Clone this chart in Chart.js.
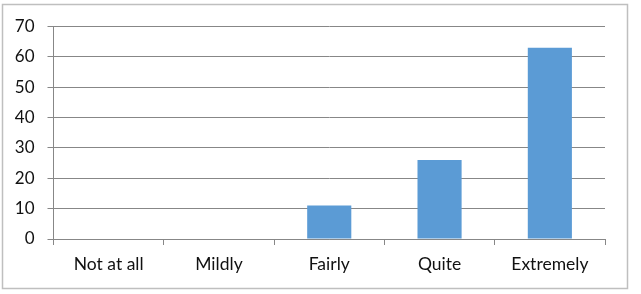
<!DOCTYPE html>
<html>
<head>
<meta charset="utf-8">
<script src="https://cdn.jsdelivr.net/npm/chart.js@4/dist/chart.umd.min.js"></script>
<style>
html,body{margin:0;padding:0;background:#fff;}
#wrap{width:641px;height:294px;position:relative;}
</style>
</head>
<body>
<div id="wrap"><canvas id="c" width="641" height="294"></canvas></div>
<script>
const categories = ["Not at all", "Mildly", "Fairly", "Quite", "Extremely"];
const values = [0, 0, 11, 26, 63];
const yTicks = [0, 10, 20, 30, 40, 50, 60, 70];

const borderPlugin = {
  id: 'outerBorder',
  beforeDraw(chart) {
    const ctx = chart.ctx;
    ctx.save();
    ctx.fillStyle = '#fff';
    ctx.fillRect(0, 0, chart.width, chart.height);
    ctx.strokeStyle = '#BFBFBF';
    ctx.lineWidth = 1.5;
    ctx.strokeRect(2.5, 4.5, 625, 284);
    ctx.restore();
  }
};

new Chart(document.getElementById('c'), {
  type: 'bar',
  data: {
    labels: categories,
    datasets: [{
      data: values,
      backgroundColor: '#5B9BD5',
      borderWidth: 0,
      barPercentage: 0.4,
      categoryPercentage: 1.0
    }]
  },
  options: {
    responsive: false,
    animation: false,
    devicePixelRatio: 1,
    layout: { padding: { top: 26.5, right: 36, left: 0, bottom: 0 } },
    plugins: { legend: { display: false }, tooltip: { enabled: false } },
    scales: {
      x: {
        grid: { display: true, drawOnChartArea: false, drawTicks: true, tickLength: 6, color: '#878787', offset: true },
        border: { display: true, color: '#878787', width: 1 },
        ticks: { color: '#111', font: { family: 'Lato', size: 17.5 }, padding: 9, maxRotation: 0 },
        afterFit(scale) { scale.height = 55; }
      },
      y: {
        min: 0, max: 70,
        afterBuildTicks(scale) { scale.ticks = yTicks.map(v => ({ value: v })); },
        grid: { color: '#878787', tickLength: 6, drawTicks: true },
        border: { display: true, color: '#878787', width: 1 },
        ticks: { color: '#111', font: { family: 'Lato', size: 17 }, padding: 13 },
        afterFit(scale) { scale.width = 53.5; }
      }
    }
  },
  plugins: [borderPlugin]
});
</script>
</body>
</html>
